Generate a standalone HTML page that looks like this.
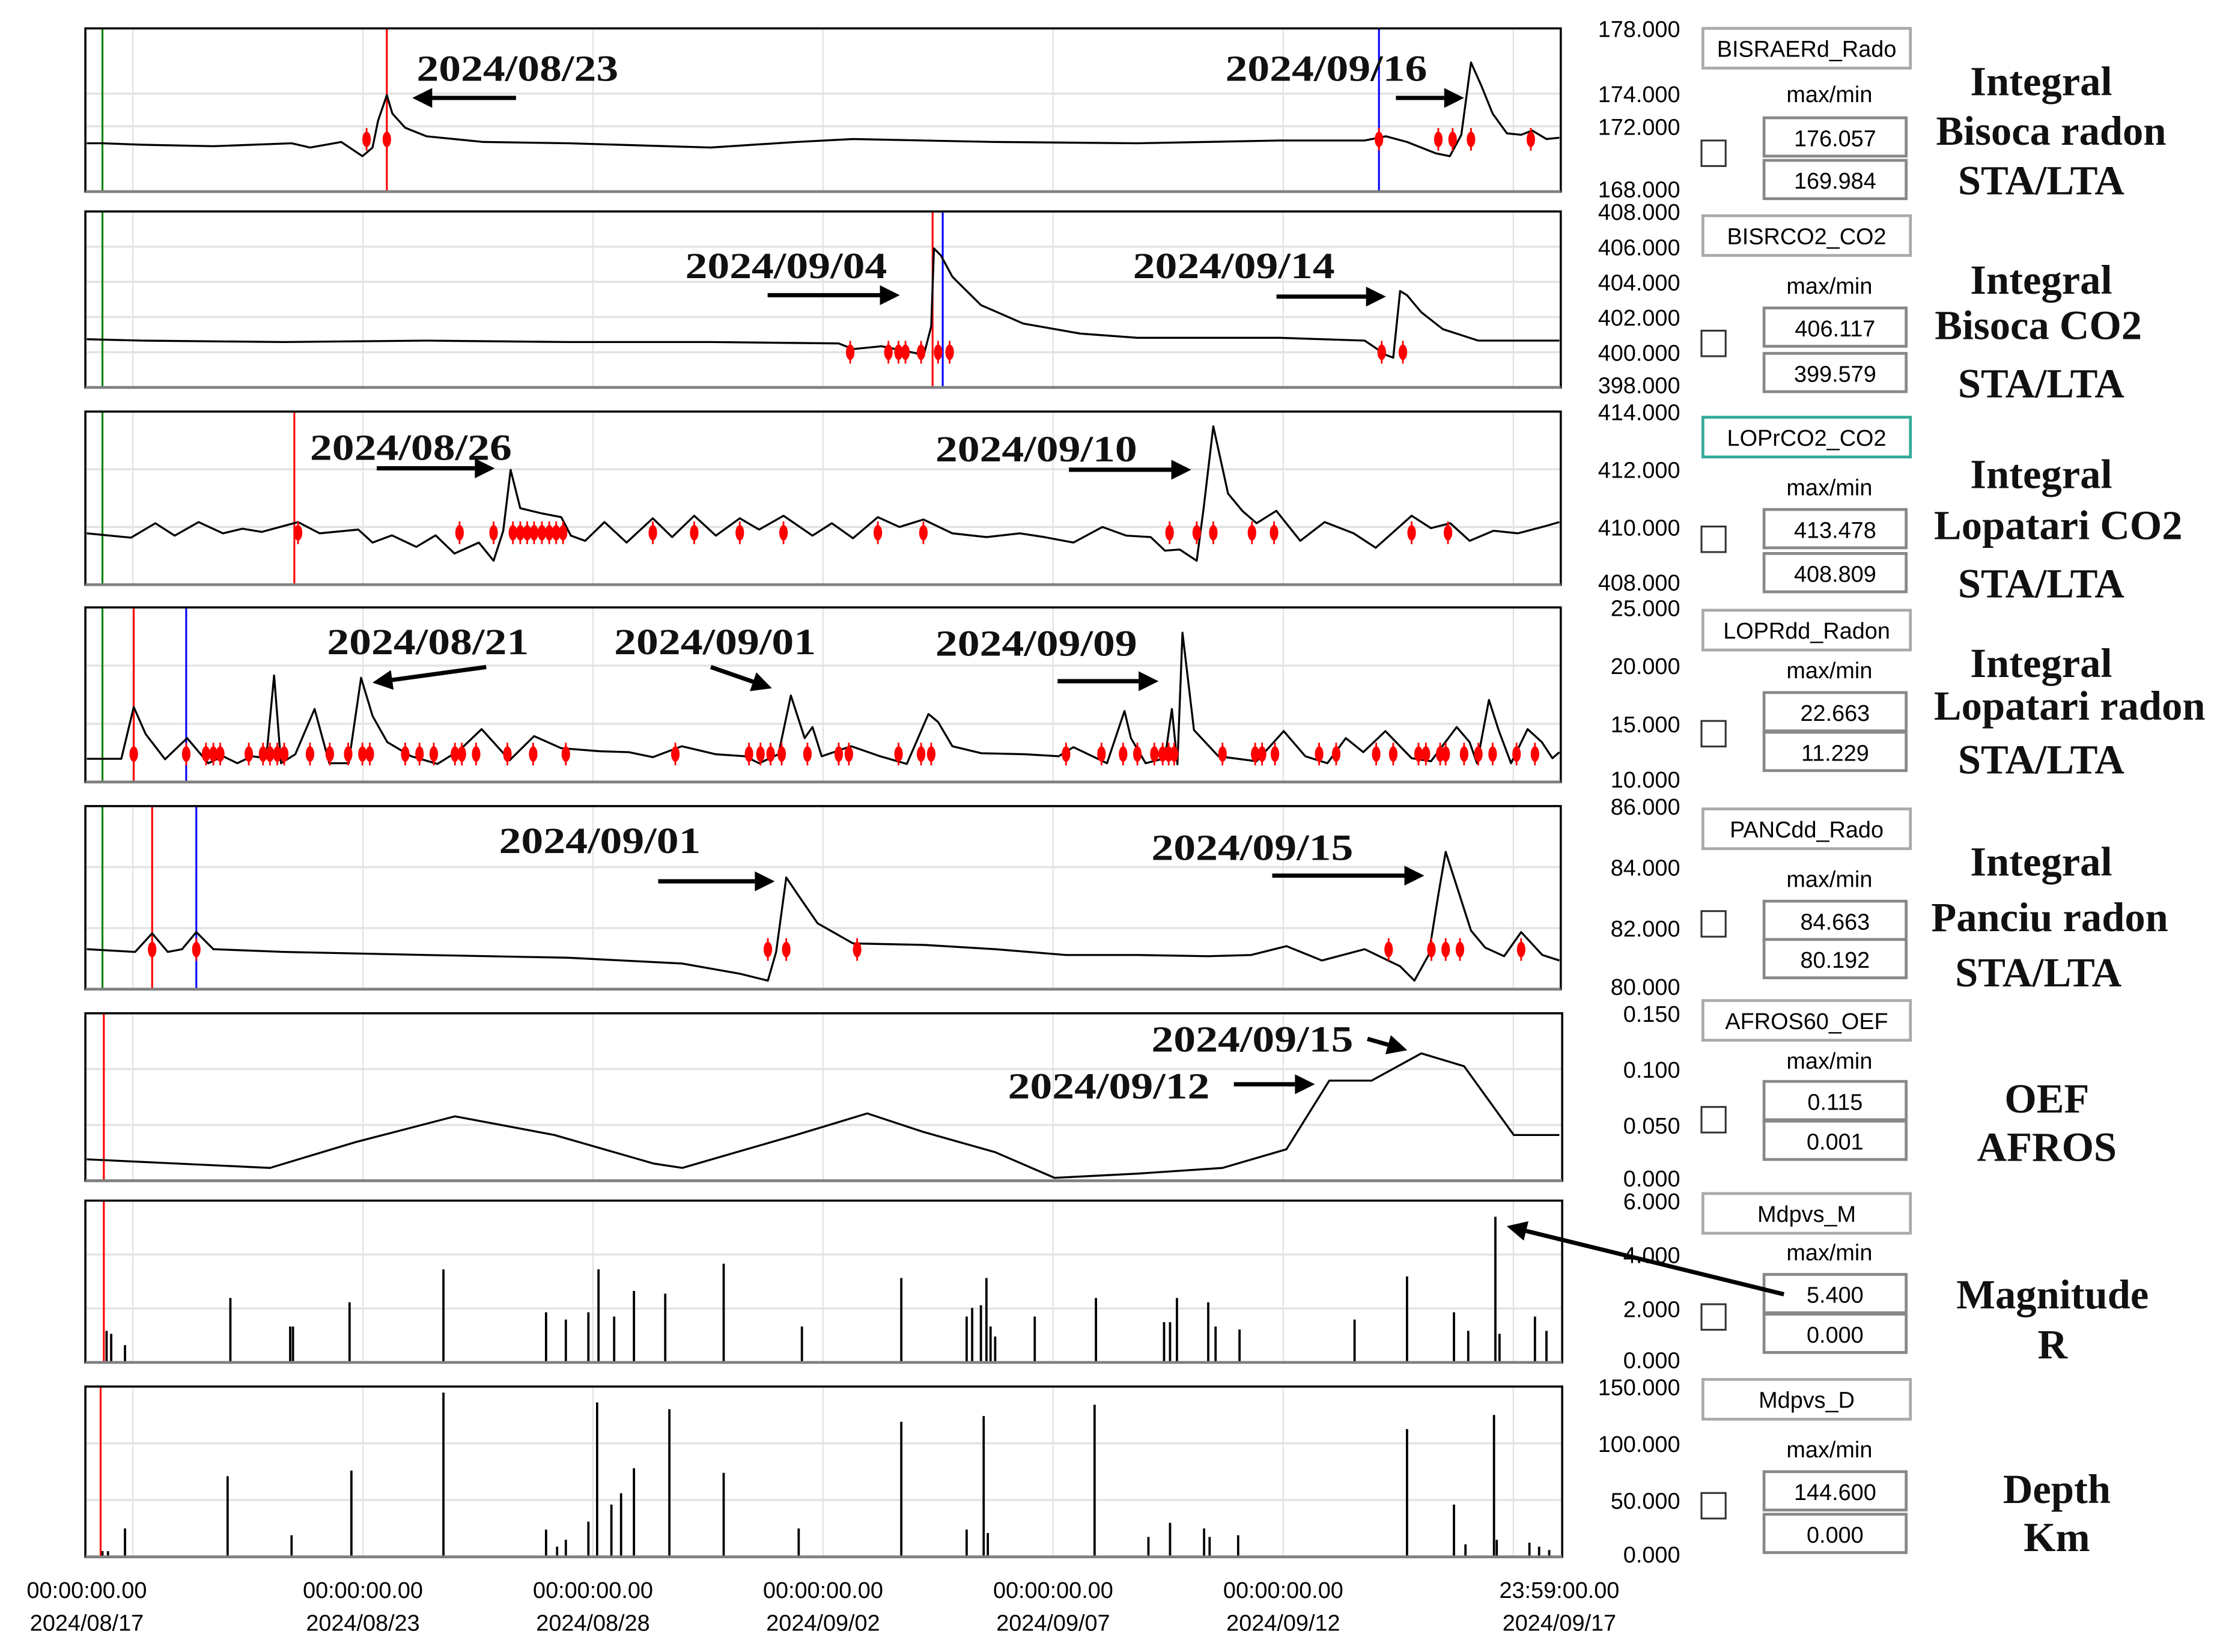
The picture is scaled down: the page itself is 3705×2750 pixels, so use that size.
<!DOCTYPE html>
<html><head><meta charset="utf-8"><style>
html,body{margin:0;padding:0;background:#fff;}
svg{display:block;}
.tick{font-family:"Liberation Sans",sans-serif;font-size:16px;fill:#000;}
.ann{font-family:"Liberation Serif",serif;font-weight:bold;font-size:26px;fill:#111;}
.big{font-family:"Liberation Serif",serif;font-weight:bold;font-size:29px;fill:#111;}
.ui{font-family:"Liberation Sans",sans-serif;font-size:16px;fill:#000;}
</style></head><body>
<svg id="chart" width="3705" height="2750" viewBox="0 0 1560 1158" xmlns="http://www.w3.org/2000/svg">
<g transform="scale(0.9962,0.9948)">
<g id="grid"></g>
<g id="marks"></g>
<g id="frames"></g>
<g id="labels"></g>
</g>
</svg>
<script>
// ---- DATA ----
const xTickTop = ["00:00:00.00","00:00:00.00","00:00:00.00","00:00:00.00","00:00:00.00","00:00:00.00","23:59:00.00"];
const xTickDates = ["2024/08/17","2024/08/23","2024/08/28","2024/09/02","2024/09/07","2024/09/12","2024/09/17"];
const xTickDays = [0,6,11,16,21,26,32];
const gridDays = [1,6,11,16,21,26,31];

const t1 = [0,0.34,1.2,2.75,4.45,4.85,5.53,5.99,6.21,6.33,6.52,6.64,6.92,7.38,8.62,10.47,13.56,15.41,16.65,19.74,22.83,25.92,27.77,28.23,28.69,29.31,29.62,29.87,30.08,30.3,30.55,30.86,31.17,31.41,31.72,32];
const v1 = [170.96,170.96,170.87,170.78,170.96,170.70,171.04,170.17,170.70,172.35,173.91,172.78,171.91,171.39,171.04,170.96,170.70,171.04,171.22,171.04,170.96,171.13,171.13,171.39,171.04,170.35,170.17,171.48,175.91,174.52,172.78,171.57,171.48,171.74,171.22,171.30];
const m1 = [6.08,6.52,28.08,29.37,29.68,30.08,31.38];

const t2 = [0,1.2,4.29,7.38,10.47,13.56,16.34,16.65,17.27,17.88,18.19,18.35,18.41,18.56,18.81,19.43,20.35,21.59,22.83,25.92,27.77,28.23,28.39,28.54,28.69,29.0,29.47,30.24,32];
const v2 = [400.74,400.66,400.58,400.66,400.58,400.58,400.5,400.18,400.34,400.02,399.85,401.47,405.9,405.5,404.29,402.68,401.63,401.06,400.82,400.82,400.66,399.85,399.69,403.48,403.24,402.27,401.31,400.66,400.66];
const m2 = [16.59,17.42,17.64,17.79,18.13,18.50,18.75,28.14,28.60];

const t3 = [0,0.96,1.49,1.91,2.43,2.96,3.38,3.80,4.59,5.06,5.90,6.21,6.63,7.16,7.58,7.99,8.52,8.84,9.05,9.21,9.42,9.89,10.31,10.52,10.83,11.25,11.73,12.30,12.72,13.20,13.67,14.19,14.61,15.14,15.77,16.19,16.65,17.19,17.66,18.18,18.81,19.55,20.28,20.81,21.44,22.07,22.59,23.12,23.43,23.75,24.12,24.27,24.48,24.80,25.11,25.42,25.85,26.37,26.90,27.53,28.01,28.79,29.21,29.63,30.05,30.57,31.10,31.72,32];
const v3 = [409.78,409.63,410.13,409.70,410.17,409.78,409.94,409.83,410.17,409.78,409.91,409.46,409.71,409.31,409.71,409.08,409.46,408.83,409.87,411.98,410.65,410.47,410.34,409.70,409.52,410.17,409.46,410.30,409.65,410.39,409.70,410.30,409.91,410.39,409.70,410.13,409.61,410.34,410.00,410.26,409.78,409.65,409.78,409.65,409.46,410.00,409.70,409.65,409.18,409.22,408.83,410.65,413.49,411.16,410.56,410.13,410.56,409.52,410.17,409.78,409.28,410.39,409.96,410.13,409.52,409.87,409.78,410.04,410.17];
const m3 = [4.59,8.10,8.84,9.26,9.42,9.57,9.72,9.89,10.05,10.20,10.35,12.30,13.20,14.19,15.14,17.19,18.18,23.53,24.12,24.48,25.32,25.80,28.79,29.58];

const t4 = [0,0.75,1.02,1.28,1.70,2.18,2.64,2.96,3.27,3.59,3.90,4.07,4.22,4.53,4.95,5.27,5.69,5.96,6.21,6.53,7.05,7.62,8.10,8.58,9.19,9.72,10.31,11.15,11.78,12.30,12.93,13.67,14.30,14.61,15.03,15.30,15.60,15.77,15.97,16.61,17.24,17.82,18.29,18.50,18.81,19.44,20.39,21.12,21.44,22.17,22.55,22.69,23.01,23.43,23.58,23.70,23.81,24.06,24.59,25.42,26.01,26.48,26.96,27.36,27.74,28.22,28.79,29.21,29.77,30.05,30.21,30.47,30.68,30.95,31.31,31.62,31.85,32];
const v4 = [11.99,11.99,16.44,14.11,11.95,13.77,11.61,12.21,11.61,12.21,12.04,19.15,11.61,12.38,16.27,11.61,11.61,18.95,15.67,13.42,12.21,11.55,12.73,14.54,11.87,13.94,12.90,12.64,12.56,12.13,13.07,12.38,12.21,11.61,12.38,17.43,13.77,14.72,12.21,13.07,12.21,11.55,15.84,15.15,13.07,12.47,12.38,12.21,12.99,11.61,16.10,13.77,11.61,12.04,16.27,11.52,22.83,14.46,12.21,11.78,14.37,12.21,11.61,13.77,12.56,14.37,12.04,11.78,14.72,13.42,11.61,17.05,14.46,11.61,14.54,13.42,12.04,12.56];
const m4 = [1.02,2.16,2.59,2.75,2.90,3.52,3.83,3.98,4.14,4.29,4.85,5.28,5.68,5.99,6.15,6.92,7.23,7.54,8.00,8.15,8.46,9.14,9.70,10.41,12.79,14.39,14.64,14.86,15.10,15.66,16.34,16.56,17.64,18.13,18.35,21.28,22.05,22.52,22.83,23.20,23.38,23.51,23.63,24.68,25.39,25.54,25.82,26.78,27.15,28.02,28.39,28.94,29.10,29.41,29.53,29.93,30.24,30.55,31.07,31.47];

const t5 = [0,1.05,1.42,1.76,2.07,2.38,2.75,4.29,7.38,10.47,12.94,14.18,14.80,14.98,15.20,15.41,15.88,16.65,18.19,19.74,21.28,22.83,24.37,25.30,26.07,26.84,27.77,28.54,28.85,29.16,29.37,29.53,29.78,30.08,30.39,30.80,31.17,31.63,32];
const v5 = [81.31,81.22,81.83,81.22,81.31,81.87,81.31,81.22,81.12,81.03,80.84,80.51,80.28,81.22,83.66,83.19,82.16,81.50,81.45,81.31,81.12,81.12,81.08,81.12,81.41,80.94,81.31,80.75,80.28,81.12,83.09,84.50,83.33,81.92,81.36,81.08,81.87,81.12,80.94];
const m5 = [1.42,2.38,14.80,15.20,16.74,28.29,29.22,29.53,29.84,31.17];

const t6 = [0,3.98,5.84,8.0,10.16,12.32,12.94,15.41,16.96,18.19,19.74,21.03,22.83,24.68,26.07,27.0,27.92,29.0,29.93,31.01,32];
const v6 = [0.0192,0.0115,0.0346,0.0577,0.0410,0.0154,0.0115,0.0410,0.0603,0.0436,0.0256,0.0026,0.0064,0.0115,0.0282,0.0897,0.0897,0.1141,0.1026,0.0410,0.0410];

const t7 = [0.43,0.53,0.83,3.12,4.42,4.48,5.71,7.75,9.98,10.41,10.90,11.12,11.46,11.89,12.57,13.84,15.54,17.70,19.12,19.24,19.43,19.55,19.64,19.74,20.60,21.93,23.41,23.54,23.69,24.37,24.53,25.05,27.55,28.69,29.71,30.02,30.61,30.70,31.47,31.72];
const v7 = [1.17,1.06,0.64,2.39,1.33,1.33,2.23,3.45,1.86,1.59,1.86,3.45,1.70,2.65,2.55,3.66,1.33,3.13,1.70,2.02,2.12,3.13,1.33,0.96,1.70,2.39,1.49,1.49,2.39,2.23,1.33,1.22,1.59,3.19,1.86,1.17,5.40,1.06,1.70,1.17];

const t8 = [0.34,0.46,0.83,3.06,4.45,5.75,7.75,9.98,10.22,10.41,10.90,11.09,11.40,11.61,11.89,12.66,13.84,15.47,17.70,19.12,19.49,19.58,21.90,23.07,23.54,24.28,24.40,25.02,28.69,29.71,29.96,30.58,30.64,31.35,31.56,31.78];
const v8 = [5,5,25,71,19,76,144.6,24,9,15,31,136,46,56,78,130,74,25,119,24,124,21,134,17.5,30,25,17.5,19,112.5,46,11,125,15,12.5,9,6];

const names = ["BISRAERd_Rado","BISRCO2_CO2","LOPrCO2_CO2","LOPRdd_Radon","PANCdd_Rado","AFROS60_OEF","Mdpvs_M","Mdpvs_D"];
const maxVals = ["176.057","406.117","413.478","22.663","84.663","0.115","5.400","144.600"];
const minVals = ["169.984","399.579","408.809","11.229","80.192","0.001","0.000","0.000"];
const yTicks1 = ["178.000","174.000","172.000","168.000"];
const yTicks2 = ["408.000","406.000","404.000","402.000","400.000","398.000"];
const yTicks3 = ["414.000","412.000","410.000","408.000"];
const yTicks4 = ["25.000","20.000","15.000","10.000"];
const yTicks5 = ["86.000","84.000","82.000","80.000"];
const yTicks6 = ["0.150","0.100","0.050","0.000"];
const yTicks7 = ["6.000","4.000","2.000","0.000"];
const yTicks8 = ["150.000","100.000","50.000","0.000"];

// ---- LAYOUT ----
const NS = "http://www.w3.org/2000/svg";
const X0 = 61, PX_DAY = 32.375;
function xs(t){ return X0 + t*PX_DAY; }
function mk(tag, attrs, parent, text){
  const e = document.createElementNS(NS, tag);
  for (const k in attrs) e.setAttribute(k, attrs[k]);
  if (text !== undefined) e.textContent = text;
  parent.appendChild(e); return e;
}
const G = document.getElementById('grid'), M = document.getElementById('marks'),
      F = document.getElementById('frames'), L = document.getElementById('labels');

const panels = [
 {y0:20,y1:135,min:168,max:178,xr:1098,ticks:yTicks1,kind:'line',t:t1,v:v1,m:m1,mlev:171.2,lines:[[0.34,'#008000'],[6.52,'#ff0000'],[28.08,'#0000ff']]},
 {y0:149,y1:273,min:398,max:408,xr:1098,ticks:yTicks2,kind:'line',t:t2,v:v2,m:m2,mlev:400.0,lines:[[0.34,'#008000'],[18.38,'#ff0000'],[18.6,'#0000ff']]},
 {y0:290,y1:412,min:408,max:414,xr:1098,ticks:yTicks3,kind:'line',t:t3,v:v3,m:m3,mlev:409.8,lines:[[0.34,'#008000'],[4.51,'#ff0000']]},
 {y0:428,y1:551,min:10,max:25,xr:1098,ticks:yTicks4,kind:'line',t:t4,v:v4,m:m4,mlev:12.4,lines:[[0.34,'#008000'],[1.02,'#ff0000'],[2.16,'#0000ff']]},
 {y0:568,y1:697,min:80,max:86,xr:1098,ticks:yTicks5,kind:'line',t:t5,v:v5,m:m5,mlev:81.3,lines:[[0.34,'#008000'],[1.42,'#ff0000'],[2.38,'#0000ff']]},
 {y0:714,y1:832,min:0,max:0.15,xr:1099,ticks:yTicks6,kind:'line',t:t6,v:v6,m:[],mlev:0,lines:[[0.37,'#ff0000']]},
 {y0:846,y1:960,min:0,max:6,xr:1099,ticks:yTicks7,kind:'bar',t:t7,v:v7,lines:[[0.37,'#ff0000']]},
 {y0:977,y1:1097,min:0,max:150,xr:1099,ticks:yTicks8,kind:'bar',t:t8,v:v8,lines:[[0.3,'#ff0000']]}
];
const boxY = [20,152,294,430,570,705,841,972];
const maxminY = [66,201,343,472,619,747,882,1021];
const valY = [[83,113],[217,249],[359,390],[488,516],[635,662],[762,790],[898,926],[1037,1067]];
const cbY = [108,242,380,517,651,789,928,1061];
const bigLabels = [
 [["Integral",1436,57],["Bisoca radon",1443,92],["STA/LTA",1436,127]],
 [["Integral",1436,197],["Bisoca CO2",1434,229],["STA/LTA",1436,270]],
 [["Integral",1436,334],["Lopatari CO2",1448,370],["STA/LTA",1436,411]],
 [["Integral",1436,467],["Lopatari radon",1456,497],["STA/LTA",1436,535]],
 [["Integral",1436,607],["Panciu radon",1442,646],["STA/LTA",1434,685]],
 [["OEF",1440,774],["AFROS",1440,808]],
 [["Magnitude",1444,912],["R",1444,947]],
 [["Depth",1447,1049],["Km",1447,1083]]
];

panels.forEach((p, i) => {
  const ys = v => p.y1 - (v - p.min) / (p.max - p.min) * (p.y1 - p.y0);
  const pg = mk('g', {}, M);
  
  
  gridDays.forEach(d => {
    const gl = mk('line', {x1:xs(d),x2:xs(d),y1:p.y0,y2:p.y1,stroke:'#e3e3e3','stroke-width':1}, G);
    
    
  });
  p.ticks.forEach((lab) => {
    const v = parseFloat(lab);
    const y = ys(v);
    if (y > p.y0 + 1 && y < p.y1 - 1) {
      const hl = mk('line', {x1:60,x2:p.xr,y1:y,y2:y,stroke:'#e3e3e3','stroke-width':1.5}, G);
      
      
    }
    let ty = y + 6;
    if (y <= p.y0 + 1) ty = p.y0 + 6;
    if (y >= p.y1 - 1) ty = p.y1 + 4;
    const tl = mk('text', {x:1182, y:ty, 'text-anchor':'end', class:'tick'}, L, lab);
    
    
  });
  p.lines.forEach(([t, c]) => {
    const vl = mk('line', {x1:xs(t),x2:xs(t),y1:p.y0,y2:p.y1,stroke:c,'stroke-width':1.3}, pg);
    
    
  });
  if (p.kind === 'line') {
    const pts = p.t.map((t, k) => xs(t).toFixed(2) + ',' + ys(p.v[k]).toFixed(2)).join(' ');
    const pl = mk('polyline', {points:pts, fill:'none', stroke:'#000', 'stroke-width':1.4, 'stroke-linejoin':'round'}, pg);
    
    
    p.m.forEach(t => {
      const x = xs(t), y = ys(p.mlev);
      const ml = mk('line', {x1:x,x2:x,y1:y-8,y2:y+8,stroke:'#ff0000','stroke-width':1.2}, pg);
      
      
      const me = mk('ellipse', {cx:x,cy:y,rx:3,ry:5.5,fill:'#ff0000'}, pg);
      
      
    });
  } else {
    p.t.forEach((t, k) => {
      const b = mk('line', {x1:xs(t),x2:xs(t),y1:p.y1,y2:ys(p.v[k]),stroke:'#000','stroke-width':1.6}, pg);
      
      
    });
  }
  const fr = mk('rect', {x:60,y:p.y0,width:p.xr-60,height:p.y1-p.y0,fill:'none',stroke:'#000','stroke-width':1.5}, F);
  
  
  const bl = mk('line', {x1:60,x2:p.xr,y1:p.y1,y2:p.y1,stroke:'#808080','stroke-width':2}, F);
  
  
  const nb = mk('rect', {x:1198,y:boxY[i],width:146,height:28,fill:'#fff',stroke:(i===2?'#3a9':'#aaa'),'stroke-width':2}, L);
  
  
  const nt = mk('text', {x:1271,y:boxY[i]+20,'text-anchor':'middle',class:'ui'}, L, names[i]);
  
  
  const mm = mk('text', {x:1287,y:maxminY[i]+6,'text-anchor':'middle',class:'ui'}, L, 'max/min');
  
  
  [maxVals[i], minVals[i]].forEach((val, k) => {
    const vy = valY[i][k];
    const vb = mk('rect', {x:1241,y:vy,width:100,height:27,fill:'#fff',stroke:'#888','stroke-width':2}, L);
    
    
    const vt = mk('text', {x:1291,y:vy+20,'text-anchor':'middle',class:'ui'}, L, val);
    
    
  });
  const cb = mk('rect', {x:1197,y:cbY[i]-9,width:17,height:18,fill:'#fff',stroke:'#333','stroke-width':1.3}, L);
  
  
  bigLabels[i].forEach(([txt, x, y]) => {
    const bt = mk('text', {x:x, y:y+10, 'text-anchor':'middle', class:'big'}, L, txt);
    
    
  });
});

xTickDays.forEach((d, k) => {
  const x = k === xTickDays.length - 1 ? 1097 : xs(d);
  const a = mk('text', {x:x, y:1126, 'text-anchor':'middle', class:'tick'}, L, xTickTop[k]);
  
  
  const b = mk('text', {x:x, y:1149, 'text-anchor':'middle', class:'tick'}, L, xTickDates[k]);
  
  
});

const annTexts = [
 ["2024/08/23",293,56],["2024/09/16",862,56],["2024/09/04",482,195],["2024/09/14",797,195],
 ["2024/08/26",218,323],["2024/09/10",658,324],["2024/08/21",230,460],["2024/09/01",432,460],
 ["2024/09/09",658,461],["2024/09/01",351,600],["2024/09/15",810,605],["2024/09/15",810,740],["2024/09/12",709,773]
];
annTexts.forEach(([s,x,y]) => {
  const t = mk('text', {x:x, y:y+1, class:'ann', textLength:142, lengthAdjust:'spacingAndGlyphs'}, L, s);
  
  
});
const arrows = [
 [363,69,290,69],[982,69,1030,69],[540,208,633,208],[898,209,975,209],
 [265,330,348,330],[752,331,838,331],[342,470,262,481],[500,470,543,485],
 [744,480,815,480],[463,621,545,621],[895,617,1002,617],[962,732,990,740],[868,764,925,764],[1255,912,1060,864]
];
arrows.forEach(([x1,y1,x2,y2]) => {
  const ang = Math.atan2(y2-y1, x2-x1);
  const hl = 14, hw = 7;
  const bx = x2 - hl*Math.cos(ang), by = y2 - hl*Math.sin(ang);
  const ln = mk('line', {x1:x1,y1:y1,x2:bx,y2:by,stroke:'#000','stroke-width':3}, L);
  
  
  const px = -Math.sin(ang)*hw, py = Math.cos(ang)*hw;
  const hd = mk('polygon', {points:`${x2},${y2} ${bx+px},${by+py} ${bx-px},${by-py}`, fill:'#000'}, L);
  
  
});
</script>
</body></html>
